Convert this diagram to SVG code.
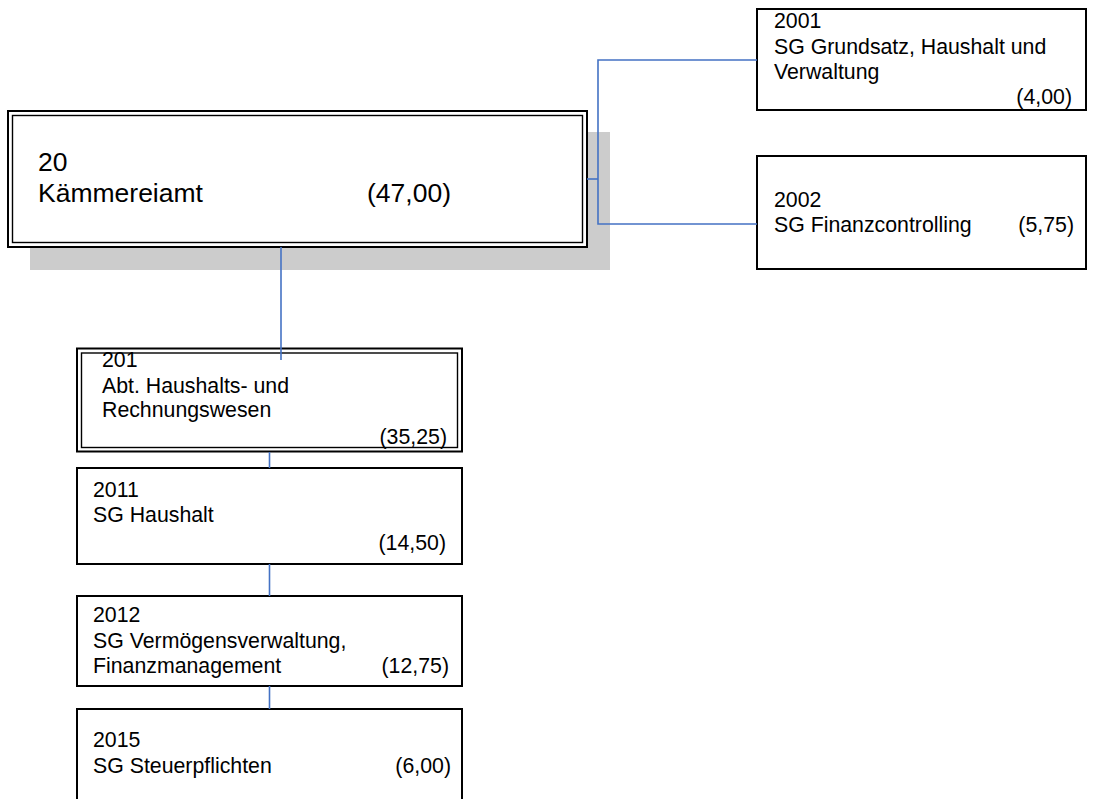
<svg xmlns="http://www.w3.org/2000/svg" width="1095" height="799" viewBox="0 0 1095 799">
<style>
  .bg { fill: #ffffff; }
  .box { fill: #ffffff; stroke: #000000; stroke-width: 2; }
  .outer { fill: #ffffff; stroke: #000000; stroke-width: 2; }
  .inner { fill: none; stroke: #000000; stroke-width: 1.4; }
  .shadow { fill: #cccccc; }
  .t { font-family: "Liberation Sans", Arial, sans-serif; font-size: 21.3px; fill: #000000; }
  .tl { font-family: "Liberation Sans", Arial, sans-serif; font-size: 26.5px; fill: #000000; }
  .r { text-anchor: end; }
  .conn { fill: none; stroke: #4472c4; stroke-width: 1.6; }
</style>
<rect class="bg" x="0" y="0" width="1095" height="799"/>

<g id="node-20">
  <rect class="shadow" x="30" y="132" width="580" height="138"/>
  <rect class="outer" x="8" y="111" width="579" height="136"/>
  <rect class="inner" x="12.5" y="115.5" width="570" height="127"/>
  <text class="tl" x="38" y="171">20</text>
  <text class="tl" x="38" y="201.5">Kämmereiamt</text>
  <text class="tl r" x="451" y="201.5">(47,00)</text>
</g>

<g id="node-2001">
  <rect class="box" x="757" y="9" width="329" height="101"/>
  <text class="t" x="774" y="27.5">2001</text>
  <text class="t" x="774" y="53.5">SG Grundsatz, Haushalt und</text>
  <text class="t" x="774" y="79">Verwaltung</text>
  <text class="t r" x="1072" y="103.5">(4,00)</text>
</g>

<g id="node-2002">
  <rect class="box" x="757" y="156" width="329" height="113"/>
  <text class="t" x="774" y="207">2002</text>
  <text class="t" x="774" y="232">SG Finanzcontrolling</text>
  <text class="t r" x="1074" y="232">(5,75)</text>
</g>

<g id="node-201">
  <rect class="outer" x="77" y="348.5" width="385" height="103"/>
  <text class="t" x="102" y="367">201</text>
  <text class="t" x="102" y="393">Abt. Haushalts- und</text>
  <text class="t" x="102" y="417">Rechnungswesen</text>
  <rect class="inner" x="81.5" y="353" width="376" height="94.5"/>
  <text class="t r" x="447" y="444">(35,25)</text>
</g>

<g id="node-2011">
  <rect class="box" x="77" y="468" width="385" height="96"/>
  <text class="t" x="93" y="497">2011</text>
  <text class="t" x="93" y="522">SG Haushalt</text>
  <text class="t r" x="446" y="550">(14,50)</text>
</g>

<g id="node-2012">
  <rect class="box" x="77" y="596" width="385" height="90"/>
  <text class="t" x="93" y="622">2012</text>
  <text class="t" x="93" y="648">SG Vermögensverwaltung,</text>
  <text class="t" x="93" y="673">Finanzmanagement</text>
  <text class="t r" x="449" y="673">(12,75)</text>
</g>

<g id="node-2015">
  <rect class="box" x="77" y="709" width="385" height="105"/>
  <text class="t" x="93" y="747">2015</text>
  <text class="t" x="93" y="773">SG Steuerpflichten</text>
  <text class="t r" x="451" y="773">(6,00)</text>
</g>

<g id="connectors">
  <path class="conn" d="M587 179 H598"/>
  <path class="conn" d="M757 60 H598 V224 H757"/>
  <path class="conn" d="M281 247 V360"/>
  <path class="conn" d="M269.5 452 V468"/>
  <path class="conn" d="M269.5 564 V596"/>
  <path class="conn" d="M269.5 686 V709"/>
</g>
</svg>
